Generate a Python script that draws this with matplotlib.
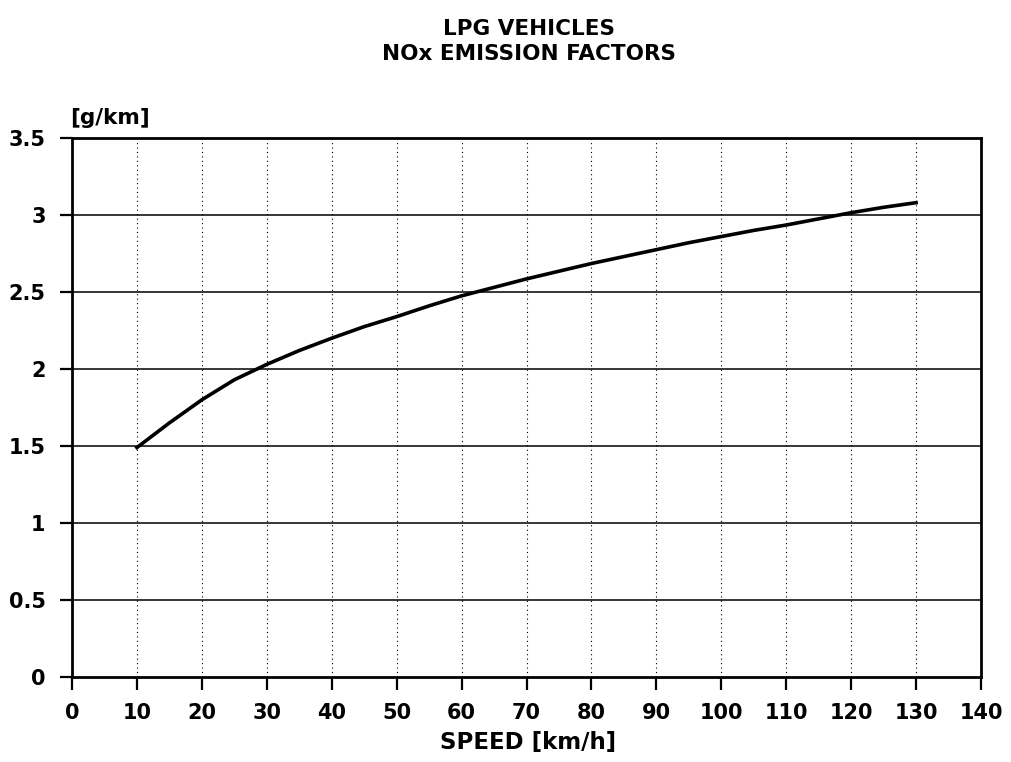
import numpy as np
import matplotlib.pyplot as plt

# 数据
speed = [10, 15, 20, 25, 30, 35, 40, 45, 50, 55, 60, 65, 70,
         75, 80, 85, 90, 95, 100, 105, 110, 115, 120, 125, 130]
nox = [1.49, 1.65, 1.80, 1.93, 2.03, 2.12, 2.20, 2.275, 2.34, 2.41, 2.475, 2.53, 2.585,
       2.635, 2.685, 2.73, 2.775, 2.82, 2.86, 2.90, 2.935, 2.975, 3.015, 3.05, 3.08]
x_ticks = list(range(0, 141, 10))
y_ticks = [0, 0.5, 1, 1.5, 2, 2.5, 3, 3.5]
y_labels = ['0', '0.5', '1', '1.5', '2', '2.5', '3', '3.5']

plt.rcParams['font.family'] = ['DejaVu Sans']
plt.rcParams['font.weight'] = 'bold'

fig = plt.figure(figsize=(10.11, 7.62), dpi=100)
ax = fig.add_axes([72 / 1011, 1 - 677 / 762, (981 - 72) / 1011, (677 - 138) / 762])

# 网格线
for y in y_ticks[1:-1]:
    ax.axhline(y, color='black', linewidth=1.1, zorder=1)
for x in x_ticks[1:-1]:
    ax.axvline(x, color='black', linewidth=0.8, linestyle=(0, (1, 3)), zorder=1)

ax.plot(speed, nox, color='black', linewidth=2.6, zorder=3)

ax.set_xlim(0, 140)
ax.set_ylim(0, 3.5)
ax.set_xticks(x_ticks)
ax.set_yticks(y_ticks)
ax.set_yticklabels(y_labels)
ax.tick_params(direction='out', length=9, width=1.6, labelsize=15, pad=10)
for lab in ax.get_xticklabels() + ax.get_yticklabels():
    lab.set_fontweight('bold')
for s in ax.spines.values():
    s.set_linewidth(2)

title_font = dict(fontweight='bold', ha='center', va='center')
fig.text(529 / 1011, 1 - 29 / 762, 'LPG VEHICLES', fontsize=15.5, **title_font)
fig.text(529 / 1011, 1 - 54 / 762, 'NOx EMISSION FACTORS', fontsize=15.5, **title_font)
fig.text(110 / 1011, 1 - 118 / 762, '[g/km]', fontsize=15.5, **title_font)
fig.text(528 / 1011, 1 - 743 / 762, 'SPEED [km/h]', fontsize=16.5, **title_font)

plt.savefig('out.png', dpi=100)
